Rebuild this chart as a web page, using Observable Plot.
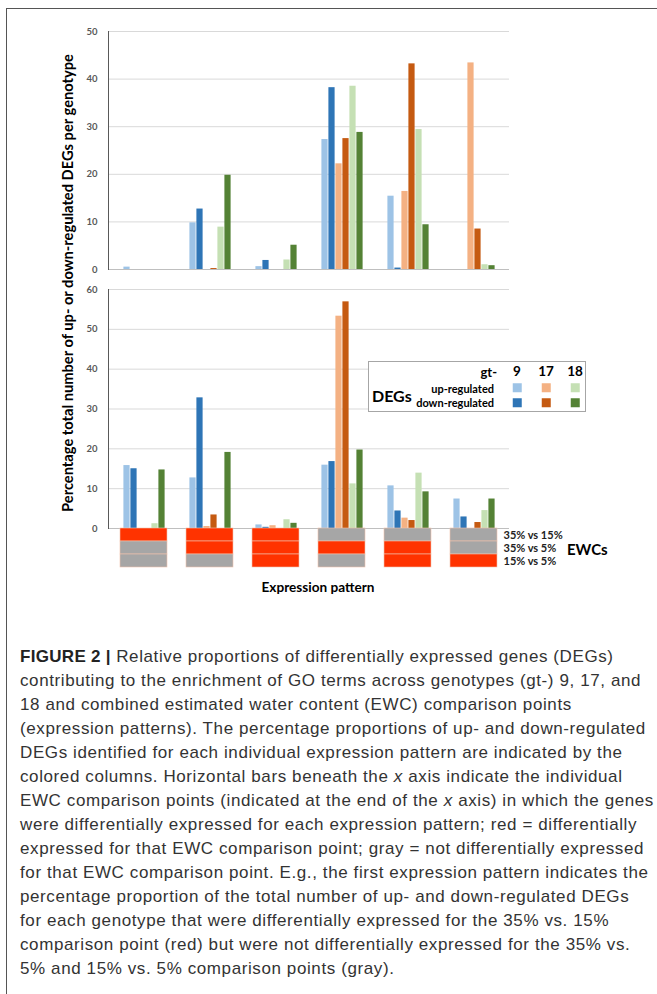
<!DOCTYPE html>
<html><head><meta charset="utf-8">
<script src="https://cdn.jsdelivr.net/npm/d3@7"></script>
<script src="https://cdn.jsdelivr.net/npm/@observablehq/plot@0.6"></script>
<style>
body{margin:0;background:#fff;}
#page{position:relative;width:657px;height:994px;overflow:hidden;font-family:Lato,"Open Sans",sans-serif;}
#frame{position:absolute;left:6px;top:8px;width:760px;height:1100px;border-left:1.5px solid #555;border-top:1.5px solid #555;box-sizing:border-box;}
.abs{position:absolute;}
.host{position:absolute;left:0;width:657px;}
.layer{position:absolute;left:0;top:0;}
.bold{font-weight:700;}
#ytitle{position:absolute;left:67px;top:283px;transform:translate(-50%,-50%) rotate(-90deg);white-space:nowrap;font-weight:700;font-size:14.7px;color:#000;}
#legend{position:absolute;left:368px;top:361px;width:218px;height:51px;border:1px solid #a6a6a6;box-sizing:border-box;background:#fff;}
#legend div{position:absolute;font-weight:700;white-space:nowrap;line-height:1;}
#caption{position:absolute;left:20px;top:645px;font-family:"Liberation Sans",Arial,sans-serif;font-size:17px;letter-spacing:0.6px;line-height:24px;color:#333;white-space:nowrap;}
#caption b{font-weight:700;color:#222;letter-spacing:0.3px;}
</style></head><body><div id="page">
<div id="frame"></div>
<div id="top" class="host" style="top:0;height:275px"></div>
<div id="bottom" class="host" style="top:280px;height:254px"></div>
<div id="ewc" class="host" style="top:528px;height:40px"></div>
<div id="ytitle">Percentage total number of up- or down-regulated DEGs per genotype</div>
<div id="legend"></div>
<div class="abs bold" style="left:567px;top:540px;font-size:15px;">EWCs</div>
<div class="abs bold" style="left:318px;top:579px;font-size:13.6px;transform:translateX(-50%);white-space:nowrap;">Expression pattern</div>
<div id="caption"></div>
</div>
<script>
// ---- data ----
const patterns = ["1", "2", "3", "4", "5", "6"];
const series = ["gt-9 up", "gt-9 down", "gt-17 up", "gt-17 down", "gt-18 up", "gt-18 down"];
const seriesColors = ["#9dc3e6", "#2e75b6", "#f4b183", "#c55a11", "#c5e0b4", "#548235"];
const genotypes = ["9", "17", "18"];
const regulation = ["up-regulated", "down-regulated"];

// top panel
const top9Up    = [0.5, 9.8, 0.6, 27.3, 15.4, 0];
const top9Down  = [0, 12.7, 1.9, 38.2, 0.3, 0];
const top17Up   = [0, 0, 0, 22.2, 16.4, 43.4];
const top17Down = [0, 0.2, 0, 27.5, 43.2, 8.5];
const top18Up   = [0, 8.9, 2.0, 38.5, 29.4, 1.0];
const top18Down = [0, 19.8, 5.1, 28.8, 9.4, 0.8];
const topTicks = [0, 10, 20, 30, 40, 50];

// bottom panel
const bot9Up    = [15.8, 12.7, 0.9, 15.9, 10.7, 7.4];
const bot9Down  = [15.0, 32.8, 0.3, 16.8, 4.4, 2.9];
const bot17Up   = [0, 0.5, 0.7, 53.3, 2.6, 0];
const bot17Down = [0, 3.4, 0, 56.9, 2.0, 1.5];
const bot18Up   = [1.2, 0, 2.2, 11.2, 13.9, 4.5];
const bot18Down = [14.7, 19.1, 1.3, 19.7, 9.2, 7.4];
const bottomTicks = [0, 10, 20, 30, 40, 50, 60];

// EWC comparison points (1 = differentially expressed / red, 0 = not / gray)
const ewcRows = ["35% vs 15%", "35% vs 5%", "15% vs 5%"];
const ewc35v15 = [1, 1, 1, 0, 0, 0];
const ewc35v5  = [0, 1, 1, 1, 1, 0];
const ewc15v5  = [0, 0, 1, 0, 1, 1];

const captionLines = [
  "<b>FIGURE 2 |</b> Relative proportions of differentially expressed genes (DEGs)",
  "contributing to the enrichment of GO terms across genotypes (gt-) 9, 17, and",
  "18 and combined estimated water content (EWC) comparison points",
  "(expression patterns). The percentage proportions of up- and down-regulated",
  "DEGs identified for each individual expression pattern are indicated by the",
  "colored columns. Horizontal bars beneath the <i>x</i> axis indicate the individual",
  "EWC comparison points (indicated at the end of the <i>x</i> axis) in which the genes",
  "were differentially expressed for each expression pattern; red = differentially",
  "expressed for that EWC comparison point; gray = not differentially expressed",
  "for that EWC comparison point. E.g., the first expression pattern indicates the",
  "percentage proportion of the total number of up- and down-regulated DEGs",
  "for each genotype that were differentially expressed for the 35% vs. 15%",
  "comparison point (red) but were not differentially expressed for the 35% vs.",
  "5% and 15% vs. 5% comparison points (gray)."
];

// ---- build ----
function toRows(arrays) {
  return patterns.flatMap((p, i) => series.map((s, j) => ({pattern: p, series: s, value: arrays[j][i]})));
}
const topData = toRows([top9Up, top9Down, top17Up, top17Down, top18Up, top18Down]);
const botData = toRows([bot9Up, bot9Down, bot17Up, bot17Down, bot18Up, bot18Down]);

const style = {fontFamily: "Lato, 'Open Sans', sans-serif", fontSize: "9px", overflow: "visible", background: "transparent"};

function panel(host, data, ticks, height, marginTop, marginBottom) {
  const dims = {width: 657, height, marginLeft: 108, marginRight: 148, marginTop, marginBottom, style};
  const yDom = {domain: [ticks[0], ticks[ticks.length - 1]]};
  const under = Plot.plot({
    ...dims,
    y: {...yDom, axis: null},
    marks: [
      Plot.gridY(ticks, {stroke: "#d9d9d9", strokeOpacity: 1}),
      Plot.axisY(ticks, {tickSize: 0, tickPadding: 11, fill: "#595959", fontWeight: "bold", fontSize: 9.5})
    ]
  });
  const bars = Plot.plot({
    ...dims,
    fx: {domain: patterns, paddingInner: 0.284, paddingOuter: 0.135, axis: null},
    x: {domain: series, axis: null, padding: 0},
    y: {...yDom, axis: null},
    color: {domain: series, range: seriesColors},
    marks: [
      Plot.barY(data, {fx: "pattern", x: "series", y: "value", fill: "series", insetLeft: 0.4, insetRight: 0.4})
    ]
  });
  const over = Plot.plot({
    ...dims,
    y: {...yDom, axis: null},
    marks: [
      Plot.ruleY([0], {stroke: "#bfbfbf"}),
      Plot.frame({anchor: "left", stroke: "#595959"})
    ]
  });
  for (const s of [under, bars, over]) { s.classList.add("layer"); host.append(s); }
}

panel(document.getElementById("top"), topData, topTicks, 275, 31, 6);
panel(document.getElementById("bottom"), botData, bottomTicks, 254, 9, 6);

const ewcData = [ewc35v15, ewc35v5, ewc15v5].flatMap((arr, r) => patterns.map((p, i) => ({pattern: p, row: ewcRows[r], on: arr[i]})));
document.getElementById("ewc").append(Plot.plot({
  width: 657, height: 40, marginLeft: 108, marginRight: 148, marginTop: 0, marginBottom: 0.5,
  style: {...style, fontSize: "11px"},
  x: {domain: patterns, paddingInner: 0.284, paddingOuter: 0.135, axis: null},
  y: {domain: ewcRows, padding: 0, axis: null},
  marks: [
    Plot.cell(ewcData, {x: "pattern", y: "row", fill: d => d.on ? "#ff3300" : "#a6a6a6", stroke: "#f2c4ad", strokeWidth: 0.6}),
    Plot.text(ewcRows, {y: d => d, frameAnchor: "right", textAnchor: "start", dx: -6, fontWeight: "bold", fill: "#222"})
  ]
}));

// legend
const lg = document.getElementById("legend");
const L = 368, T = 361;
function add(html, x, y, css) {
  const d = document.createElement("div");
  d.innerHTML = html;
  d.style.cssText = css;
  d.style.left = (x - L) + "px";
  d.style.top = (y - T) + "px";
  lg.append(d);
  return d;
}
add("gt-", 496, 371, "font-size:13px;transform:translate(-100%,-50%);");
const colX = [516, 545, 574];
genotypes.forEach((g, i) => add(g, colX[i], 371, "font-size:13.5px;transform:translate(-50%,-50%);"));
add(regulation[0], 493, 386.5, "font-size:11px;transform:translate(-100%,-50%);");
add(regulation[1], 493, 401, "font-size:11px;transform:translate(-100%,-50%);");
add("DEGs", 371, 395, "font-size:16px;transform:translate(0,-50%);");
genotypes.forEach((g, i) => {
  [0, 1].forEach(r => {
    const sw = add("", colX[i], r === 0 ? 386.5 : 401.5, "width:8.5px;height:9.5px;transform:translate(-50%,-50%);");
    sw.style.background = seriesColors[i * 2 + r];
  });
});

document.getElementById("caption").innerHTML = captionLines.join("<br>");
</script>
</body></html>
